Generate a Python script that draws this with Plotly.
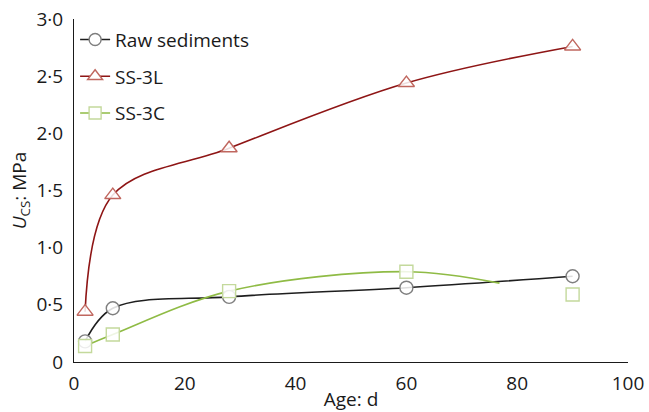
import plotly.graph_objects as go

# Curing age (days) and unconfined compressive strength (MPa)
age = [2, 7, 28, 60, 90]
raw_sediments = [0.18, 0.47, 0.57, 0.65, 0.75]
ss_3l = [0.44, 1.46, 1.87, 2.44, 2.76]
ss_3c = [0.14, 0.24, 0.62, 0.79, 0.59]

# The SS-3C trend curve stops short of the 90-day result
ss_3c_curve_age = [2, 7, 28, 60, 76.8]
ss_3c_curve = [0.14, 0.24, 0.62, 0.79, 0.69]

x_ticks = [0, 20, 40, 60, 80, 100]
y_ticks = [0, 0.5, 1.0, 1.5, 2.0, 2.5, 3.0]
y_tick_text = ["0", "0·5", "1·0", "1·5", "2·0", "2·5", "3·0"]

FONT = "Open Sans, Noto Sans, sans-serif"

series = [
    dict(name="Raw sediments", x=age, y=raw_sediments, cx=age, cy=raw_sediments,
         line="#1e1e1e", symbol="circle", edge="#7f7f7f", size=13),
    dict(name="SS-3L", x=age, y=ss_3l, cx=age, cy=ss_3l,
         line="#8e1515", symbol="triangle-up", edge="#c0675f", size=14),
    dict(name="SS-3C", x=age, y=ss_3c, cx=ss_3c_curve_age, cy=ss_3c_curve,
         line="#8fbb45", symbol="square", edge="#c4d99c", size=13),
]

fig = go.Figure()

for s in series:
    # smooth connecting curve
    fig.add_trace(go.Scatter(
        x=s["cx"], y=s["cy"], mode="lines",
        line=dict(color=s["line"], width=1.6, shape="spline", smoothing=1.0),
        legendgroup=s["name"], showlegend=False, hoverinfo="skip",
    ))

for s in series:
    # measured values
    fig.add_trace(go.Scatter(
        x=s["x"], y=s["y"], mode="markers",
        marker=dict(symbol=s["symbol"], size=s["size"],
                    color="rgba(255,255,255,0.85)",
                    line=dict(color=s["edge"], width=1.4)),
        legendgroup=s["name"], showlegend=False,
    ))

for s in series:
    # legend entry
    fig.add_trace(go.Scatter(
        x=[None], y=[None], mode="lines+markers", name=s["name"],
        line=dict(color=s["line"], width=1.6),
        marker=dict(symbol=s["symbol"], size=s["size"] - 1,
                    color="white", line=dict(color=s["edge"], width=1.4)),
        legendgroup=s["name"],
    ))

fig.update_layout(
    width=649, height=412,
    margin=dict(l=74, r=21, t=19, b=50),
    paper_bgcolor="white", plot_bgcolor="white",
    font=dict(family=FONT, size=18, color="#1a1a1a"),
    showlegend=True,
    legend=dict(
        x=0.002, y=0.995, xanchor="left", yanchor="top",
        bgcolor="rgba(0,0,0,0)", font=dict(size=19),
        tracegroupgap=9, itemwidth=30,
    ),
    xaxis=dict(
        range=[0, 100], tickvals=x_ticks, ticks="", showgrid=False,
        zeroline=False, showline=True, linecolor="#1a1a1a", linewidth=1,
        tickfont=dict(size=19), ticklabelstandoff=4, automargin=False,
        title=dict(text="Age: d", font=dict(size=19), standoff=18),
    ),
    yaxis=dict(
        range=[0, 3.0], tickvals=y_ticks, ticktext=y_tick_text, ticks="",
        showgrid=False, zeroline=False, showline=True, linecolor="#1a1a1a",
        linewidth=1, tickfont=dict(size=19), ticklabelstandoff=6, automargin=False,
        title=dict(text="<i>U</i><sub>CS</sub>: MPa", font=dict(size=19), standoff=4),
    ),
)

fig.write_html("out.html")
